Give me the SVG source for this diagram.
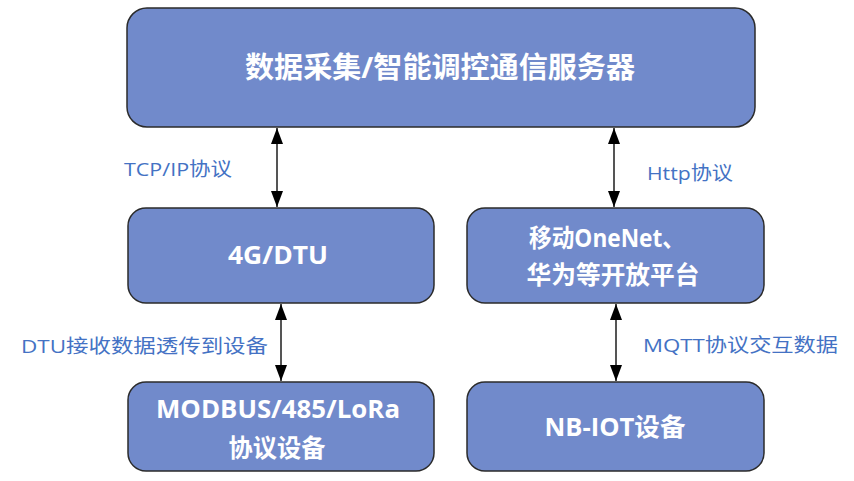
<svg xmlns="http://www.w3.org/2000/svg" width="854" height="481" viewBox="0 0 854 481">
<style>
.box{fill:#718ACB;stroke:#2b2b2b;stroke-width:1.5}
.nt{fill:#ffffff;font-family:"Open Sans","Noto Sans CJK SC",sans-serif;font-weight:bold;text-anchor:middle;font-size:25px}
.lb{fill:#4472C4;font-family:"Open Sans","Noto Sans CJK SC",sans-serif;font-size:19px}
.cn{stroke:#555555;stroke-width:2;fill:none;marker-start:url(#ah);marker-end:url(#ah)}
</style>
<defs>
<marker id="ah" viewBox="0 0 16 12" refX="16" refY="6" markerWidth="16" markerHeight="12" markerUnits="userSpaceOnUse" orient="auto-start-reverse">
<path d="M0,0 L16,6 L0,12 Z" fill="#000000"/>
</marker>
</defs>
<rect width="854" height="481" fill="#ffffff"/>
<g id="connectors">
<line class="cn" x1="277" y1="128" x2="277" y2="207"/>
<line class="cn" x1="614" y1="128" x2="614" y2="207"/>
<line class="cn" x1="281" y1="304" x2="281" y2="381"/>
<line class="cn" x1="616" y1="304" x2="616" y2="381"/>
<text class="lb" x="124" y="176" textLength="108" lengthAdjust="spacingAndGlyphs">TCP/IP协议</text>
<text class="lb" x="647" y="180" textLength="86" lengthAdjust="spacingAndGlyphs">Http协议</text>
<text class="lb" x="21" y="353" textLength="247" lengthAdjust="spacingAndGlyphs">DTU接收数据透传到设备</text>
<text class="lb" x="643" y="352" textLength="195" lengthAdjust="spacingAndGlyphs">MQTT协议交互数据</text>
</g>
<g id="server">
<rect class="box" x="127" y="8" width="628" height="119" rx="20" ry="20"/>
<text class="nt" x="440" y="78" style="font-size:29px" textLength="390" lengthAdjust="spacingAndGlyphs">数据采集/智能调控通信服务器</text>
</g>
<g id="dtu">
<rect class="box" x="128" y="208" width="306" height="95" rx="18" ry="18"/>
<text class="nt" x="278" y="264" textLength="100" lengthAdjust="spacingAndGlyphs">4G/DTU</text>
</g>
<g id="platform">
<rect class="box" x="467" y="208" width="297" height="95" rx="18" ry="18"/>
<text class="nt" x="607" y="247" textLength="156" lengthAdjust="spacingAndGlyphs">移动OneNet、</text>
<text class="nt" x="613" y="284" textLength="173" lengthAdjust="spacingAndGlyphs">华为等开放平台</text>
</g>
<g id="modbus">
<rect class="box" x="128" y="382" width="306" height="89" rx="18" ry="18"/>
<text class="nt" x="278" y="418" textLength="244" lengthAdjust="spacingAndGlyphs">MODBUS/485/LoRa</text>
<text class="nt" x="277" y="457" textLength="97" lengthAdjust="spacingAndGlyphs">协议设备</text>
</g>
<g id="nbiot">
<rect class="box" x="467" y="382" width="297" height="89" rx="18" ry="18"/>
<text class="nt" x="615" y="436" textLength="141" lengthAdjust="spacingAndGlyphs">NB-IOT设备</text>
</g>
</svg>
